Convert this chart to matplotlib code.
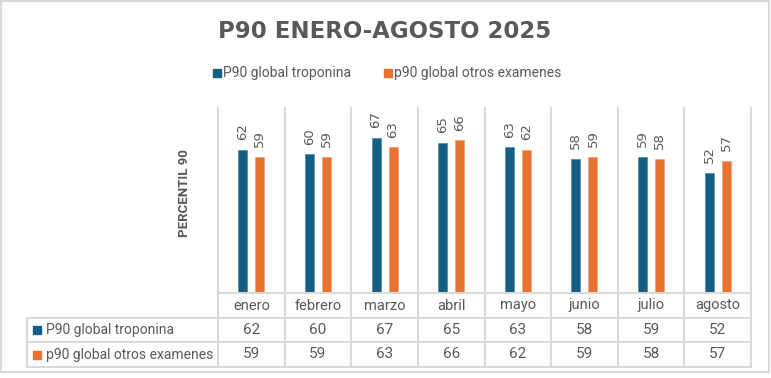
import numpy as np
import matplotlib
matplotlib.use('Agg')
import matplotlib.pyplot as plt
from matplotlib.lines import Line2D
from matplotlib.patches import Rectangle
from matplotlib import font_manager

# data
meses = ['enero', 'febrero', 'marzo', 'abril', 'mayo', 'junio', 'julio', 'agosto']
troponina = [62, 60, 67, 65, 63, 58, 59, 52]
otros = [59, 59, 63, 66, 62, 59, 58, 57]
serie_nombres = ['P90 global troponina', 'p90 global otros examenes']
titulo = 'P90 ENERO-AGOSTO 2025'
ylabel = 'PERCENTIL 90'

# style
c_blue = '#156082'
c_orange = '#E97132'
c_grid = '#D9D9D9'
c_text = '#595959'
W, H = 771, 378

names = {f.name for f in font_manager.fontManager.ttflist}
body_font = 'Roboto' if 'Roboto' in names else 'DejaVu Sans'

plt.rcParams['font.family'] = body_font


def fx(px):
    return px / W


def fy(py):
    return 1 - py / H


fig = plt.figure(figsize=(W / 100, H / 100), dpi=100)

# plot area in pixels
left, right, top, bottom = 218, 751, 108, 293
ax = fig.add_axes([fx(left), fy(bottom), fx(right - left), (bottom - top) / H])

x = np.arange(len(meses))
bw = 0.135
off = 0.128
b1 = ax.bar(x - off, troponina, bw, color=c_blue, edgecolor='#4a88a8', linewidth=0.5)
b2 = ax.bar(x + off, otros, bw, color=c_orange, edgecolor='#f2a070', linewidth=0.5)

for bars, vals in [(b1, troponina), (b2, otros)]:
    for r, v in zip(bars, vals):
        ax.annotate(str(v), (r.get_x() + r.get_width() / 2, v), xytext=(0, 7),
                    textcoords='offset points', rotation=90, ha='center', va='bottom',
                    fontsize=9.5, color=c_text, family='DejaVu Sans')

ax.set_xlim(-0.5, len(meses) - 0.5)
ax.set_ylim(0, 80)
ax.set_xticks([])
ax.set_yticks([])
for s in ax.spines.values():
    s.set_visible(False)

# table geometry (pixels)
rows = [293, 318, 342, 367]
tab_left = 27
col_x = [left + (right - left) * i / len(meses) for i in range(len(meses) + 1)]

# vertical separators from plot top to table bottom
for cx in col_x:
    fig.add_artist(Line2D([fx(cx), fx(cx)], [fy(top), fy(rows[-1])], color=c_grid, lw=1.5))
fig.add_artist(Line2D([fx(tab_left), fx(tab_left)], [fy(rows[1]), fy(rows[-1])], color=c_grid, lw=1.5))
# horizontal lines
fig.add_artist(Line2D([fx(left), fx(right)], [fy(rows[0]), fy(rows[0])], color=c_grid, lw=1.5))
for ry in rows[1:]:
    fig.add_artist(Line2D([fx(tab_left), fx(right)], [fy(ry), fy(ry)], color=c_grid, lw=1.5))

# table text
for i, m in enumerate(meses):
    cx = (col_x[i] + col_x[i + 1]) / 2
    fig.text(fx(cx), fy((rows[0] + rows[1]) / 2), m, ha='center', va='center',
             fontsize=10.5, color=c_text)
    fig.text(fx(cx), fy((rows[1] + rows[2]) / 2), str(troponina[i]), ha='center', va='center',
             fontsize=11, color=c_text)
    fig.text(fx(cx), fy((rows[2] + rows[3]) / 2), str(otros[i]), ha='center', va='center',
             fontsize=11, color=c_text)

for k, (nm, col) in enumerate(zip(serie_nombres, [c_blue, c_orange])):
    yc = (rows[k + 1] + rows[k + 2]) / 2
    fig.add_artist(Rectangle((fx(33), fy(yc + 4)), fx(8), 8 / H, color=col, transform=fig.transFigure))
    fig.text(fx(46), fy(yc), nm, ha='left', va='center', fontsize=10, color=c_text)

# legend on top
for nm, col, sx in zip(serie_nombres, [c_blue, c_orange], [213, 384]):
    fig.add_artist(Rectangle((fx(sx), fy(77)), fx(8), 8 / H, color=col, transform=fig.transFigure))
    fig.text(fx(sx + 10), fy(73), nm, ha='left', va='center', fontsize=10, color=c_text)

# title and axis label
fig.text(fx(385), fy(31), titulo, ha='center', va='center', fontsize=16.5,
         fontweight='bold', color=c_text, family='DejaVu Sans')
fig.text(fx(184), fy(193), ylabel, ha='center', va='center', rotation=90,
         fontsize=9.5, fontweight='bold', color=c_text)

# chart border
fig.add_artist(Rectangle((fx(0.5), fy(372)), fx(768), 371.5 / H, fill=False,
                         edgecolor=c_grid, lw=1.5, transform=fig.transFigure))

fig.savefig('out.png', dpi=100, facecolor='white')
